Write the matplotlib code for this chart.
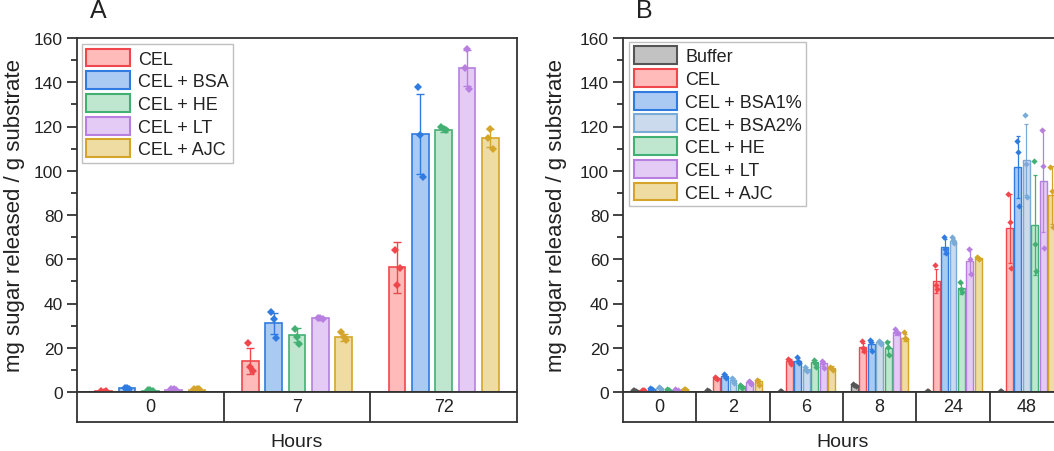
import matplotlib
matplotlib.use("Agg")
import matplotlib.pyplot as plt
import numpy as np
from matplotlib.patches import Patch

plt.rcParams['font.family'] = ['Liberation Sans', 'DejaVu Sans']

# ---------------- Panel A data ----------------
a_groups = ['0', '7', '72']
a_series = ['CEL', 'CEL + BSA', 'CEL + HE', 'CEL + LT', 'CEL + AJC']
a_cel_mean = [0.3, 14.1, 56.3]
a_cel_sd = [0.3, 5.8, 11.5]
a_cel_pts = [[0.5, 0.2, 0.3], [22.0, 11.5, 9.5], [64.0, 48.5, 56.0]]
a_bsa_mean = [1.6, 31.0, 116.6]
a_bsa_sd = [0.5, 4.9, 18.0]
a_bsa_pts = [[1.9, 1.8, 1.2], [36.0, 33.0, 24.5], [138.0, 116.0, 97.0]]
a_he_mean = [0.6, 25.8, 118.4]
a_he_sd = [0.2, 3.2, 1.0]
a_he_pts = [[0.8, 0.7, 0.6], [28.5, 25.0, 21.5], [120.0, 119.0, 118.5]]
a_lt_mean = [0.9, 33.3, 146.4]
a_lt_sd = [0.3, 0.5, 8.0]
a_lt_pts = [[1.2, 1.3, 0.8], [33.6, 33.4, 33.2], [146.5, 155.0, 137.0]]
a_ajc_mean = [1.1, 24.7, 114.8]
a_ajc_sd = [0.2, 1.7, 4.0]
a_ajc_pts = [[1.3, 1.3, 1.2], [27.0, 25.0, 23.5], [115.0, 119.0, 110.0]]

# ---------------- Panel B data ----------------
b_groups = ['0', '2', '6', '8', '24', '48']
b_series = ['Buffer', 'CEL', 'CEL + BSA1%', 'CEL + BSA2%', 'CEL + HE', 'CEL + LT', 'CEL + AJC']
b_buf_mean = [0.8, 0.6, 0.3, 3.0, 0.3, 0.3]
b_buf_sd = [0.2, 0.2, 0.1, 0.5, 0.1, 0.1]
b_buf_pts = [[1.0, 0.8, 0.6], [0.8, 0.6, 0.4], [0.4, 0.3, 0.2], [3.5, 3.0, 2.5], [0.4, 0.3, 0.2], [0.4, 0.3, 0.2]]
b_cel_mean = [0.8, 6.5, 14.0, 20.3, 50.3, 74.0]
b_cel_sd = [0.2, 0.5, 0.8, 2.0, 5.5, 15.5]
b_cel_pts = [[1.0, 0.8, 0.7], [7.0, 6.5, 5.8], [14.8, 13.8, 12.5], [23.0, 20.0, 18.5], [57.4, 48.5, 46.5], [89.6, 77.0, 56.0]]
b_bsa1_mean = [1.5, 7.2, 14.2, 21.5, 65.7, 101.8]
b_bsa1_sd = [0.3, 0.8, 1.3, 2.0, 3.5, 14.0]
b_bsa1_pts = [[1.7, 1.5, 1.3], [8.2, 7.3, 6.2], [15.7, 14.0, 13.0], [23.3, 22.5, 18.5], [69.9, 64.5, 63.0], [113.6, 108.6, 84.0]]
b_bsa2_mean = [1.8, 5.5, 10.3, 22.5, 68.4, 105.0]
b_bsa2_sd = [0.3, 0.8, 1.0, 0.7, 1.2, 16.0]
b_bsa2_pts = [[2.2, 1.8, 1.5], [6.2, 5.2, 4.0], [11.3, 10.0, 9.5], [23.2, 22.5, 21.8], [70.0, 68.5, 67.5], [125.0, 103.0, 88.3]]
b_he_mean = [1.0, 2.5, 13.5, 20.0, 46.9, 75.5]
b_he_sd = [0.2, 0.5, 1.0, 3.0, 2.5, 22.5]
b_he_pts = [[1.2, 1.0, 0.8], [3.0, 2.5, 2.0], [14.3, 13.0, 11.5], [22.7, 20.5, 16.8], [49.9, 46.5, 45.0], [104.6, 66.9, 54.8]]
b_lt_mean = [1.0, 4.5, 13.0, 27.0, 59.0, 95.2]
b_lt_sd = [0.2, 0.6, 1.2, 1.2, 5.5, 23.0]
b_lt_pts = [[1.2, 1.0, 0.8], [5.0, 4.5, 3.5], [14.0, 13.0, 11.0], [28.5, 27.0, 26.5], [64.6, 60.0, 53.3], [118.4, 102.3, 65.0]]
b_ajc_mean = [1.2, 5.0, 11.0, 24.5, 60.6, 89.0]
b_ajc_sd = [0.2, 1.0, 0.8, 1.5, 0.5, 13.0]
b_ajc_pts = [[1.4, 1.2, 1.0], [5.5, 4.8, 3.0], [11.5, 10.5, 9.8], [27.0, 24.5, 24.0], [61.0, 60.5, 60.0], [101.5, 91.0, 74.7]]

# ---------------- styles ----------------
EDGE = {'Buffer': '#555555', 'CEL': '#f0474c', 'BSA': '#2f7be0', 'BSA2': '#7aaad6',
        'HE': '#43b073', 'LT': '#b77fe0', 'AJC': '#d4a52a'}
FILL = {'Buffer': '#c2c2c2', 'CEL': '#ffbaba', 'BSA': '#abcaf3', 'BSA2': '#cbdaec',
        'HE': '#bfe7cf', 'LT': '#e4cbf5', 'AJC': '#efdca2'}

a_keys = ['CEL', 'BSA', 'HE', 'LT', 'AJC']
b_keys = ['Buffer', 'CEL', 'BSA', 'BSA2', 'HE', 'LT', 'AJC']
a_data = [(a_cel_mean, a_cel_sd, a_cel_pts), (a_bsa_mean, a_bsa_sd, a_bsa_pts),
          (a_he_mean, a_he_sd, a_he_pts), (a_lt_mean, a_lt_sd, a_lt_pts),
          (a_ajc_mean, a_ajc_sd, a_ajc_pts)]
b_data = [(b_buf_mean, b_buf_sd, b_buf_pts), (b_cel_mean, b_cel_sd, b_cel_pts),
          (b_bsa1_mean, b_bsa1_sd, b_bsa1_pts), (b_bsa2_mean, b_bsa2_sd, b_bsa2_pts),
          (b_he_mean, b_he_sd, b_he_pts), (b_lt_mean, b_lt_sd, b_lt_pts),
          (b_ajc_mean, b_ajc_sd, b_ajc_pts)]

W, H = 1054, 452
fig = plt.figure(figsize=(W / 100, H / 100), dpi=100)

SPINE = '#333333'


def px_axes(x0, x1, y0, y1):
    return fig.add_axes([x0 / W, 1 - y1 / H, (x1 - x0) / W, (y1 - y0) / H])


def draw_panel(x0, x1, groups, keys, labels, data, spacing, width, capsize, elw, blw,
               msize, letter, letter_x, ylabel_x, legend_box):
    ax = px_axes(x0, x1, 39, 393)
    n = len(keys)
    xs = np.arange(len(groups))
    for i, (k, (m, sd, pts)) in enumerate(zip(keys, data)):
        off = (i - (n - 1) / 2) * spacing
        xpos = xs + off
        ax.bar(xpos, m, width=width, color=FILL[k], edgecolor=EDGE[k], linewidth=blw, zorder=2)
        ax.errorbar(xpos, m, yerr=sd, fmt='none', ecolor=EDGE[k], elinewidth=elw,
                    capsize=capsize, capthick=elw, zorder=3)
        pts = np.array(pts)
        for j, jit in enumerate([-0.15, 0.0, 0.15]):
            ax.plot(xpos + jit * width, pts[:, j], 'D', color=EDGE[k], markersize=msize,
                    markeredgewidth=0, zorder=4)
    ax.set_xlim(-0.5, len(groups) - 0.5)
    ax.set_ylim(0, 160)
    ax.set_yticks(np.arange(0, 161, 20))
    ax.set_yticks(np.arange(10, 160, 20), minor=True)
    ax.set_xticks([])
    ax.tick_params(axis='y', which='major', direction='out', length=7, width=1.2,
                   labelsize=12.5, pad=3, colors='#222222')
    ax.tick_params(axis='y', which='minor', direction='out', length=4, width=1.2,
                   colors='#222222')
    for s in ax.spines.values():
        s.set_linewidth(1.3)
        s.set_color(SPINE)
    ax.set_ylabel('mg sugar released / g substrate', fontsize=16, color='#222222')
    ax.yaxis.set_label_coords(ylabel_x, 0.5)
    ax.text(letter_x, 1.045, letter, transform=ax.transAxes, fontsize=18,
            ha='left', va='bottom', color='#222222')

    handles = [Patch(facecolor=FILL[k], edgecolor=EDGE[k], linewidth=1.5) for k in keys]
    leg = ax.legend(handles, labels, loc='upper left', bbox_to_anchor=legend_box,
                    fontsize=13, frameon=True, fancybox=False, edgecolor='#c0c0c0',
                    framealpha=1, handlelength=2.4, handleheight=1.15, labelspacing=0.2,
                    handletextpad=0.45, borderpad=0.25, borderaxespad=0.0)
    leg.get_frame().set_linewidth(1.0)
    for t in leg.get_texts():
        t.set_color('#222222')

    # category box under the axis
    cx = px_axes(x0, x1, 393, 423)
    cx.set_xlim(-0.5, len(groups) - 0.5)
    cx.set_ylim(0, 1)
    cx.set_xticks([])
    cx.set_yticks([])
    for s in cx.spines.values():
        s.set_linewidth(1.3)
        s.set_color(SPINE)
    for g in range(1, len(groups)):
        cx.axvline(g - 0.5, color=SPINE, linewidth=1.3)
    for g, lab in enumerate(groups):
        cx.text(g, 0.5, lab, ha='center', va='center', fontsize=13, color='#222222')
    cx.set_xlabel('Hours', fontsize=14, labelpad=8, color='#222222')
    return ax


draw_panel(77, 517, a_groups, a_keys, a_series, a_data, spacing=0.159, width=0.113,
           capsize=2.8, elw=1.0, blw=1.2, msize=3.8, letter='A', letter_x=0.03,
           ylabel_x=-0.118, legend_box=(0.011, 0.983))
draw_panel(623, 1063, b_groups, b_keys, b_series, b_data, spacing=0.1145, width=0.095,
           capsize=1.5, elw=0.9, blw=1.0, msize=3.2, letter='B', letter_x=0.03,
           ylabel_x=-0.128, legend_box=(0.014, 0.989))

fig.savefig('out.png', dpi=100)
